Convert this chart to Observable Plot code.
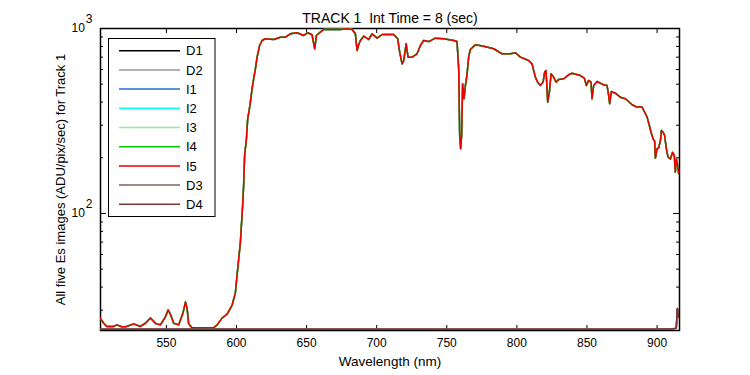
<!DOCTYPE html>
<html>
<head>
<meta charset="utf-8">
<script src="https://cdn.jsdelivr.net/npm/d3@7"></script>
<script src="https://cdn.jsdelivr.net/npm/@observablehq/plot@0.6"></script>
<style>
  html, body { margin: 0; padding: 0; background: #fff; }
  svg { display: block; }
</style>
</head>
<body>
<div id="chart"></div>
<script>
// ---- data ----
const titleText = "TRACK 1  Int Time = 8 (sec)";
const xLabel = "Wavelength (nm)";
const yLabel = "All five Es images (ADU/pix/sec) for Track 1";

const seriesNames = ["D1", "D2", "I1", "I2", "I3", "I4", "I5", "D3", "D4"];
const seriesColors = ["#000000", "#999999", "#1f6fd6", "#00ffff", "#90ee90", "#00c800", "#ee0000", "#806262", "#803434"];

const xTicks = [550, 600, 650, 700, 750, 800, 850, 900];
const yMajor = [100, 1000];
const yMinor = [30, 40, 50, 60, 70, 80, 90, 200, 300, 400, 500, 600, 700, 800, 900];

// illuminated images I1..I5 (overlap within a pixel)
const iWave = [503.0, 505.3, 507.5, 512, 514.8, 518, 521, 526.7, 531.5, 535, 538.6, 542.7, 545.7, 549.3, 551.2, 552.9, 555.2, 558.8, 561.9, 563.6, 564.8, 565.9, 568.3, 576, 583.7, 586.2, 589.7, 593.3, 596.9, 599.2, 600.4, 601.6, 602.8, 603.5, 604.4, 605.1, 605.8, 607.1, 608, 609.2, 609.9, 611.1, 612.3, 613.5, 614.7, 616.5, 618.3, 620.6, 626.5, 631.3, 634.9, 638.4, 643.2, 647.9, 650.8, 653.9, 655.8, 657, 659.8, 662.2, 669.3, 674, 678.9, 682.5, 684.8, 686, 687.2, 688.4, 690.8, 694.3, 696.7, 700.3, 703.9, 712.1, 715, 716.4, 718.1, 719.3, 721, 722.4, 725.3, 728.8, 731.2, 733.5, 737.1, 741.9, 747.8, 755, 757.3, 758.5, 759.2, 759.9, 760.6, 761.3, 762.3, 763.3, 764.5, 765.6, 766.8, 770.4, 776.3, 783.5, 789.5, 795.4, 799, 802.5, 808.4, 810.8, 813.2, 814.8, 816.8, 818.7, 819.8, 820.8, 822, 823.2, 824.4, 826.2, 828, 829.8, 833.4, 837, 839.4, 845.3, 848.1, 849.6, 851.2, 852.9, 853.6, 854.8, 857.2, 861.9, 864.3, 865.5, 866.2, 867.4, 870.3, 873.8, 877.4, 879.7, 882.2, 885.7, 889.3, 890.9, 892.9, 894.5, 895.7, 897.1, 898.3, 898.8, 900, 901.1, 902.4, 903.1, 904.3, 905.4, 906.6, 907.8, 909.5, 911.1, 912.3, 913, 913.8, 914.7, 915.4, 915.9];
const iCounts = [27, 25.5, 24.5, 24.5, 25, 24.4, 24.4, 25.3, 24.5, 25.5, 27.2, 25.3, 25, 27.6, 30.1, 28.5, 25.5, 25, 29.1, 33.2, 30.6, 25.3, 24.1, 24.1, 24.1, 25, 27.2, 28.6, 32, 37.2, 46.2, 56.9, 70, 86, 110.5, 142, 206, 253, 325, 368, 400, 472, 535, 605, 700, 809, 861, 880, 872, 897, 897, 936, 948, 917, 948, 925, 777, 917, 955, 988, 988, 988, 996, 988, 936, 760, 820, 861, 909, 872, 936, 887, 928, 928, 880, 745, 644, 671, 826, 700, 700, 730, 809, 861, 850, 887, 880, 861, 850, 605, 264, 224, 264, 502, 417, 492, 569, 700, 770, 816, 802, 777, 730, 730, 739, 700, 671, 644, 546, 513, 492, 513, 580, 593, 400, 453, 569, 546, 513, 530, 535, 562, 573, 557, 539, 492, 524, 513, 417, 492, 517, 496, 492, 434, 392, 456, 447, 425, 417, 403, 387, 376, 376, 356, 332, 299, 275, 254, 245, 199, 224, 226, 248, 281, 275, 264, 224, 202, 197, 214, 206, 167, 197, 182, 164, 170];

// dark images D1..D4
const dWave = [503, 550, 600, 650, 700, 750, 800, 850, 900, 912, 913.7, 914.5, 915.3, 915.9];
const dCounts = [23.7, 23.7, 23.7, 23.7, 23.7, 23.7, 23.7, 23.7, 23.7, 23.8, 24.0, 30.6, 27.5, 28.5];

// ---- layout ----
const W = 750, H = 375, mL = 100, mR = 71, mT = 28, mB = 45;
const fW = W - mL - mR, fH = H - mT - mB;

const rows = [];
seriesNames.forEach((name, k) => {
  const isI = name.startsWith("I");
  const wv = isI ? iWave : dWave, ct = isI ? iCounts : dCounts;
  wv.forEach((w, j) => rows.push({series: name, order: k, wavelength: w, counts: ct[j]}));
});

const font = "'Liberation Sans', Arial, Helvetica, sans-serif";

const chart = Plot.plot({
  width: W, height: H,
  marginLeft: mL, marginRight: mR, marginTop: mT, marginBottom: mB,
  style: {fontFamily: font, fontSize: "12px", background: "#fff", color: "#000", overflow: "visible"},
  x: {domain: [503, 916]},
  y: {type: "log", domain: [23.3, 1000]},
  color: {domain: seriesNames, range: seriesColors},
  marks: [
    Plot.frame({stroke: "#000", strokeWidth: 1.5}),
    Plot.axisX(xTicks, {anchor: "bottom", tickSize: 0, tickPadding: 8, label: null, fontSize: 12}),
    Plot.axisY(yMajor, {anchor: "left", tickSize: 0, tickPadding: 8, label: null, fontSize: 12,
      tickFormat: d => "10^" + Math.round(Math.log10(d))}),
    // inward ticks (box style)
    Plot.tickX(xTicks, {x: d => d, insetTop: fH - 5, stroke: "#000"}),
    Plot.tickX(xTicks, {x: d => d, insetBottom: fH - 5, stroke: "#000"}),
    Plot.tickY(yMajor, {y: d => d, insetRight: fW - 6, stroke: "#000"}),
    Plot.tickY(yMinor, {y: d => d, insetRight: fW - 3, stroke: "#000"}),
    Plot.tickY(yMajor, {y: d => d, insetLeft: fW - 6, stroke: "#000"}),
    Plot.tickY(yMinor, {y: d => d, insetLeft: fW - 3, stroke: "#000"}),
    // series
    ...seriesNames.map(name => Plot.line(rows.filter(r => r.series === name), {
      x: "wavelength", y: "counts", stroke: "series", strokeWidth: 1.5, clip: true
    })),
    // title and axis labels
    Plot.text([titleText], {text: d => d, frameAnchor: "top", textAnchor: "middle", dy: -15, fontSize: 14, fill: "#000"}),
    Plot.text([xLabel], {text: d => d, frameAnchor: "bottom", textAnchor: "middle", dy: 35, fontSize: 13.5, fill: "#000"}),
    Plot.text([yLabel], {text: d => d, frameAnchor: "left", textAnchor: "middle", dx: -40, rotate: -90, fontSize: 13, fill: "#000"})
  ]
});

document.getElementById("chart").appendChild(chart);

const svg = d3.select(chart);
svg.selectAll("text").style("white-space", "pre");

// superscript exponents on y tick labels
svg.selectAll('g[aria-label="y-axis tick label"] text').each(function () {
  const parts = this.textContent.split("^");
  const s = d3.select(this);
  s.text(parts[0]);
  s.append("tspan").attr("dy", "-0.8em").attr("dx", "1").text(parts[1]);
});

// legend box inside the plot area
const lg = svg.append("g").attr("font-family", font).attr("font-size", 13).attr("text-anchor", "start");
const lx = 108.5, ly = 38.5, lw = 106.5, lh = 178;
lg.append("rect").attr("x", lx).attr("y", ly).attr("width", lw).attr("height", lh)
  .attr("fill", "#fff").attr("stroke", "#000").attr("stroke-width", 1);
seriesNames.forEach((name, k) => {
  const y = 50.7 + k * 19.2;
  lg.append("line").attr("x1", 119).attr("x2", 180).attr("y1", y).attr("y2", y)
    .attr("stroke", seriesColors[k]).attr("stroke-width", 1.5);
  lg.append("text").attr("x", 186).attr("y", y).attr("dy", "0.36em")
    .attr("text-anchor", "start").attr("fill", "#000").text(name);
});
</script>
</body>
</html>
